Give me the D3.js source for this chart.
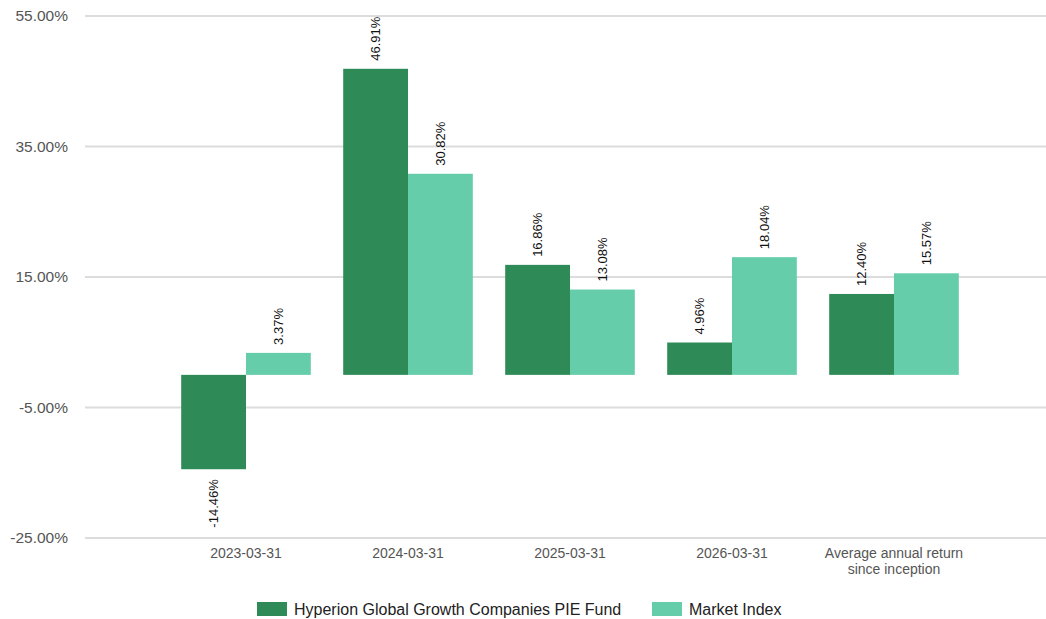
<!DOCTYPE html>
<html>
<head>
<meta charset="utf-8">
<script src="https://cdn.jsdelivr.net/npm/d3@7"></script>
<style>
  body { margin: 0; background: #fff; font-family: Arial, "Liberation Sans", sans-serif; }
</style>
</head>
<body>
<div id="chart"></div>
<script>
// data
var categories = ["2023-03-31", "2024-03-31", "2025-03-31", "2026-03-31", "Average annual return|since inception"];
var seriesNames = ["Hyperion Global Growth Companies PIE Fund", "Market Index"];
var fundValues = [-14.46, 46.91, 16.86, 4.96, 12.40];
var indexValues = [3.37, 30.82, 13.08, 18.04, 15.57];
var yTicks = [-25, -5, 15, 35, 55];
var colors = ["#2e8b57", "#66cdaa"];

var width = 1046, height = 619;

var svg = d3.select("#chart").append("svg")
    .attr("width", width)
    .attr("height", height);

var x = d3.scaleBand()
    .domain(categories)
    .range([165, 975])
    .paddingInner(0.2)
    .paddingOuter(0.1);

var xSub = d3.scaleBand()
    .domain(seriesNames)
    .range([0, x.bandwidth()]);

var y = d3.scaleLinear()
    .domain([-25, 55])
    .range([538, 16]);

// gridlines
svg.append("g").selectAll("line")
    .data(yTicks)
    .enter().append("line")
    .attr("x1", 85)
    .attr("x2", 1046)
    .attr("y1", function(d){ return y(d); })
    .attr("y2", function(d){ return y(d); })
    .attr("stroke", "#dcdcdc")
    .attr("stroke-width", 2);

// y labels
svg.append("g").selectAll("text")
    .data(yTicks)
    .enter().append("text")
    .attr("x", 68)
    .attr("y", function(d){ return y(d); })
    .attr("dy", "0.35em")
    .attr("text-anchor", "end")
    .attr("font-size", 15.5)
    .attr("fill", "#555")
    .text(function(d){ return d.toFixed(2) + "%"; });

// bars
var rows = categories.map(function(c, i){
    return [
        {cat: c, name: seriesNames[0], value: fundValues[i], color: colors[0]},
        {cat: c, name: seriesNames[1], value: indexValues[i], color: colors[1]}
    ];
});

var groups = svg.append("g").selectAll("g")
    .data(rows)
    .enter().append("g")
    .attr("transform", function(d){ return "translate(" + x(d[0].cat) + ",0)"; });

groups.selectAll("rect")
    .data(function(d){ return d; })
    .enter().append("rect")
    .attr("x", function(d){ return xSub(d.name); })
    .attr("width", xSub.bandwidth())
    .attr("y", function(d){ return y(Math.max(0, d.value)); })
    .attr("height", function(d){ return Math.abs(y(d.value) - y(0)); })
    .attr("fill", function(d){ return d.color; });

// value labels, rotated
groups.selectAll("text")
    .data(function(d){ return d; })
    .enter().append("text")
    .attr("transform", function(d){
        var cx = xSub(d.name) + xSub.bandwidth() / 2;
        var cy = d.value >= 0 ? y(d.value) - 8 : y(d.value) + 10;
        return "translate(" + cx + "," + cy + ") rotate(-90)";
    })
    .attr("dy", "0.35em")
    .attr("text-anchor", function(d){ return d.value >= 0 ? "start" : "end"; })
    .attr("font-size", 13)
    .attr("fill", "#111")
    .text(function(d){ return d.value.toFixed(2) + "%"; });

// x labels
var xl = svg.append("g").selectAll("text")
    .data(categories)
    .enter().append("text")
    .attr("x", function(d){ return x(d) + x.bandwidth() / 2; })
    .attr("y", 558)
    .attr("text-anchor", "middle")
    .attr("font-size", 14)
    .attr("fill", "#555");

xl.selectAll("tspan")
    .data(function(d){ return d.split("|"); })
    .enter().append("tspan")
    .attr("x", function(){ var p = this.parentNode.__data__; return x(p) + x.bandwidth() / 2; })
    .attr("dy", function(d, i){ return i === 0 ? 0 : 16; })
    .text(function(d){ return d; });

// legend
var legendX = [257, 652];
var legend = svg.append("g").selectAll("g")
    .data(seriesNames)
    .enter().append("g")
    .attr("transform", function(d, i){ return "translate(" + legendX[i] + ",602)"; });

legend.append("rect")
    .attr("width", 30)
    .attr("height", 14)
    .attr("fill", function(d, i){ return colors[i]; });

legend.append("text")
    .attr("x", 37)
    .attr("y", 7)
    .attr("dy", "0.35em")
    .attr("font-size", 16)
    .attr("fill", "#222")
    .text(function(d){ return d; });
</script>
</body>
</html>
